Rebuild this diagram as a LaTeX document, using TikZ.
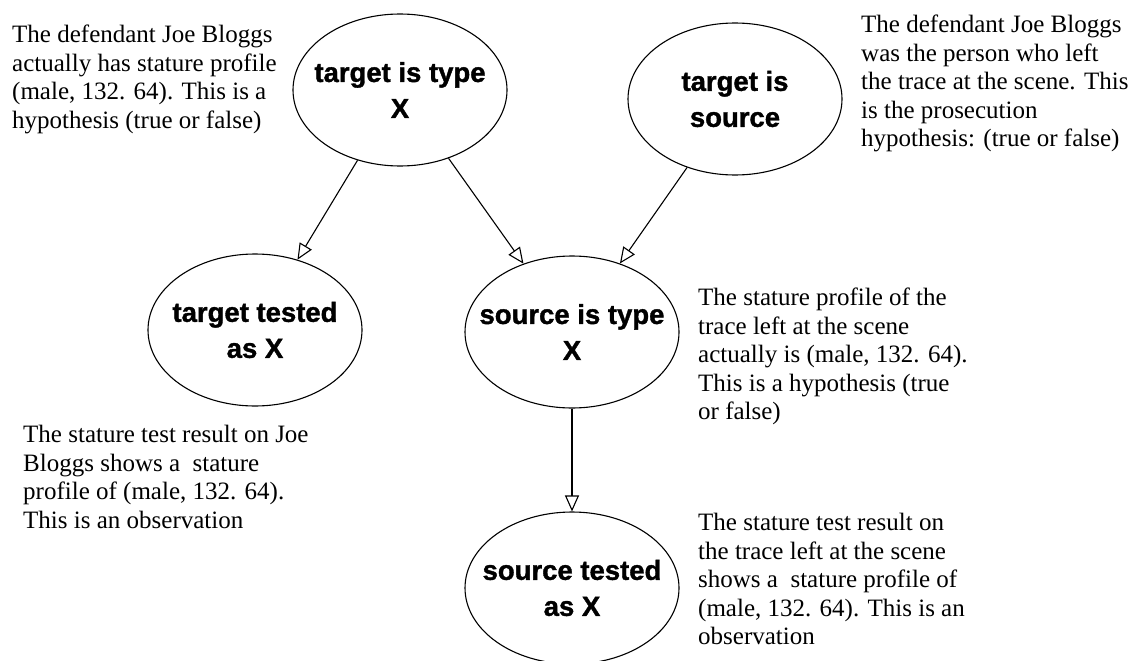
\documentclass[tikz,border=0pt]{standalone}
\usepackage{fontspec}
\setmainfont{Liberation Serif}
\newfontfamily\nodefont{Liberation Sans Bold}[FakeBold=1.3]
\usetikzlibrary{shapes.geometric,arrows.meta}
\begin{document}
\begin{tikzpicture}[x=1pt,y=-1pt,
  bnode/.style={ellipse, draw, line width=1.1pt, minimum width=214pt, minimum height=152pt, inner sep=0pt},
  btext/.style={align=center, inner sep=0pt, font=\nodefont\fontsize{27.5}{36}\selectfont},
  note/.style={align=left, anchor=north west, inner sep=0pt, font=\fontsize{25}{28.5}\selectfont},
  link/.style={line width=1.1pt, -{Triangle[open, length=16pt, width=14pt]}}
]
\useasboundingbox (0,0) rectangle (1132,661);

\node[bnode] (e1) at (400,90) {};
\node[btext] (t1) at (e1.center) {target is type\\X};
\node[bnode] (e2) at (735,99) {};
\node[btext] (t2) at (e2.center) {target is\\source};
\node[bnode] (e3) at (255,330) {};
\node[btext] (t3) at (e3.center) {target tested\\as X};
\node[bnode] (e4) at (572,332) {};
\node[btext] (t4) at (e4.center) {source is type\\X};
\node[bnode] (e5) at (572,588) {};
\node[btext] (t5) at (e5.center) {source tested\\as X};

\draw[link] (e1) -- (e3);
\draw[link] (e1) -- (e4);
\draw[link] (e2) -- (e4);
\draw[link] (e4) -- (e5);

\node[note] (nA) at (12,25) {The defendant Joe Bloggs\\actually has stature profile\\(male, 132. 64). This is a\\hypothesis (true or false)};
\node[note] (nB) at (861,15) {The defendant Joe Bloggs\\was the person who left\\the trace at the scene. This\\is the prosecution\\hypothesis: (true or false)};
\node[note] (nC) at (698,288) {The stature profile of the\\trace left at the scene\\actually is (male, 132. 64).\\This is a hypothesis (true\\or false)};
\node[note] (nD) at (23,425) {The stature test result on Joe\\Bloggs shows a\ \ stature\\profile of (male, 132. 64).\\This is an observation};
\node[note] (nE) at (698,513) {The stature test result on\\the trace left at the scene\\shows a\ \ stature profile of\\(male, 132. 64). This is an\\observation};
\end{tikzpicture}
\end{document}
